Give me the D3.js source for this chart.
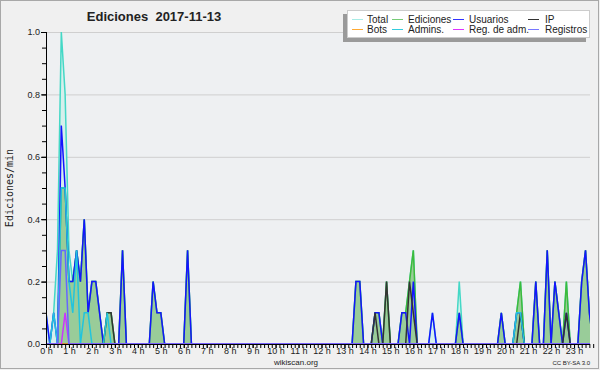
<!DOCTYPE html>
<html>
<head>
<meta charset="utf-8">
<script src="https://cdn.jsdelivr.net/npm/d3@7"></script>
<style>
  body { margin: 0; background: #f0f0f0; }
  svg { display: block; }
  text { font-family: 'Liberation Sans', Arial, sans-serif; fill: #222; }
</style>
</head>
<body>
<div id="chart"></div>
<script>
// 10-minute slots, values in edits per minute
const slotMinutes = d3.range(144).map(i => i * 10);

const total = [
  0.1, 0, 0.1, 0.3, 1.0, 0.8, 0.3, 0.2, 0.3, 0.2, 0.4, 0.1, 0.2, 0.2, 0.1, 0, 0.1, 0.1, 0, 0, 0.3, 0, 0, 0,
  0, 0, 0, 0, 0.2, 0.1, 0.1, 0, 0, 0, 0, 0, 0, 0.3, 0, 0, 0, 0, 0, 0, 0, 0, 0, 0,
  0, 0, 0, 0, 0, 0, 0, 0, 0, 0, 0, 0, 0, 0, 0, 0, 0, 0, 0, 0, 0, 0, 0, 0,
  0, 0, 0, 0, 0, 0, 0, 0, 0, 0.2, 0.2, 0, 0, 0, 0.1, 0.1, 0, 0.2, 0, 0, 0, 0.1, 0.1, 0.2,
  0.3, 0, 0, 0, 0, 0.1, 0, 0, 0, 0, 0, 0, 0.2, 0, 0, 0, 0, 0, 0, 0, 0, 0, 0, 0.1,
  0, 0, 0, 0.1, 0.2, 0, 0, 0, 0.2, 0, 0, 0.3, 0, 0.2, 0.1, 0, 0.2, 0, 0, 0, 0.2, 0.3, 0.1, 0
];
const ediciones = [
  0, 0, 0, 0, 0.5, 0.5, 0.2, 0.2, 0.3, 0.2, 0.4, 0.1, 0.2, 0.2, 0.1, 0, 0.1, 0.1, 0, 0, 0.3, 0, 0, 0,
  0, 0, 0, 0, 0.2, 0.1, 0.1, 0, 0, 0, 0, 0, 0, 0.3, 0, 0, 0, 0, 0, 0, 0, 0, 0, 0,
  0, 0, 0, 0, 0, 0, 0, 0, 0, 0, 0, 0, 0, 0, 0, 0, 0, 0, 0, 0, 0, 0, 0, 0,
  0, 0, 0, 0, 0, 0, 0, 0, 0, 0.2, 0.2, 0, 0, 0, 0.1, 0.1, 0, 0.2, 0, 0, 0, 0.1, 0.1, 0.2,
  0.3, 0, 0, 0, 0, 0, 0, 0, 0, 0, 0, 0, 0.1, 0, 0, 0, 0, 0, 0, 0, 0, 0, 0, 0.1,
  0, 0, 0, 0.1, 0.2, 0, 0, 0, 0.2, 0, 0, 0.3, 0, 0.2, 0.1, 0, 0.2, 0, 0, 0, 0.2, 0.3, 0.1, 0
];
const usuarios = [
  0.1, 0, 0.1, 0, 0.7, 0.5, 0.2, 0.2, 0.3, 0.2, 0.4, 0.1, 0.2, 0.2, 0.1, 0, 0, 0, 0, 0, 0.3, 0, 0, 0,
  0, 0, 0, 0, 0.2, 0.1, 0.1, 0, 0, 0, 0, 0, 0, 0.3, 0, 0, 0, 0, 0, 0, 0, 0, 0, 0,
  0, 0, 0, 0, 0, 0, 0, 0, 0, 0, 0, 0, 0, 0, 0, 0, 0, 0, 0, 0, 0, 0, 0, 0,
  0, 0, 0, 0, 0, 0, 0, 0, 0, 0.2, 0.2, 0, 0, 0, 0.1, 0.1, 0, 0, 0, 0, 0, 0.1, 0.1, 0,
  0.2, 0, 0, 0, 0, 0.1, 0, 0, 0, 0, 0, 0, 0.1, 0, 0, 0, 0, 0, 0, 0, 0, 0, 0, 0.1,
  0, 0, 0, 0.1, 0.1, 0, 0, 0, 0.2, 0, 0, 0.3, 0, 0.2, 0.1, 0, 0.1, 0, 0, 0, 0.2, 0.3, 0.1, 0
];
const ip = [
  0, 0, 0, 0, 0, 0, 0, 0, 0, 0, 0, 0, 0, 0, 0, 0, 0.1, 0.1, 0, 0, 0, 0, 0, 0,
  0, 0, 0, 0, 0, 0, 0, 0, 0, 0, 0, 0, 0, 0, 0, 0, 0, 0, 0, 0, 0, 0, 0, 0,
  0, 0, 0, 0, 0, 0, 0, 0, 0, 0, 0, 0, 0, 0, 0, 0, 0, 0, 0, 0, 0, 0, 0, 0,
  0, 0, 0, 0, 0, 0, 0, 0, 0, 0, 0, 0, 0, 0, 0.1, 0, 0, 0.2, 0, 0, 0, 0, 0, 0.2,
  0.1, 0, 0, 0, 0, 0, 0, 0, 0, 0, 0, 0, 0, 0, 0, 0, 0, 0, 0, 0, 0, 0, 0, 0,
  0, 0, 0, 0, 0.1, 0, 0, 0, 0, 0, 0, 0, 0, 0, 0, 0, 0.1, 0, 0, 0, 0, 0, 0, 0
];
const bots = [
  0, 0, 0, 0, 0, 0, 0, 0, 0, 0, 0, 0, 0, 0, 0, 0, 0, 0, 0, 0, 0, 0, 0, 0,
  0, 0, 0, 0, 0, 0, 0, 0, 0, 0, 0, 0, 0, 0, 0, 0, 0, 0, 0, 0, 0, 0, 0, 0,
  0, 0, 0, 0, 0, 0, 0, 0, 0, 0, 0, 0, 0, 0, 0, 0, 0, 0, 0, 0, 0, 0, 0, 0,
  0, 0, 0, 0, 0, 0, 0, 0, 0, 0, 0, 0, 0, 0, 0, 0, 0, 0, 0, 0, 0, 0, 0, 0,
  0, 0, 0, 0, 0, 0, 0, 0, 0, 0, 0, 0, 0, 0, 0, 0, 0, 0, 0, 0, 0, 0, 0, 0,
  0, 0, 0, 0, 0, 0, 0, 0, 0, 0, 0, 0, 0, 0, 0, 0, 0, 0, 0, 0, 0, 0, 0, 0
];
const admins = [
  0, 0, 0.1, 0, 0.5, 0.5, 0.2, 0.1, 0.3, 0, 0.1, 0.1, 0, 0, 0, 0, 0.1, 0, 0, 0, 0, 0, 0, 0,
  0, 0, 0, 0, 0, 0, 0, 0, 0, 0, 0, 0, 0, 0, 0, 0, 0, 0, 0, 0, 0, 0, 0, 0,
  0, 0, 0, 0, 0, 0, 0, 0, 0, 0, 0, 0, 0, 0, 0, 0, 0, 0, 0, 0, 0, 0, 0, 0,
  0, 0, 0, 0, 0, 0, 0, 0, 0, 0, 0, 0, 0, 0, 0, 0, 0, 0, 0, 0, 0, 0, 0, 0,
  0, 0, 0, 0, 0, 0, 0, 0, 0, 0, 0, 0, 0, 0, 0, 0, 0, 0, 0, 0, 0, 0, 0, 0,
  0, 0, 0, 0.1, 0.1, 0, 0, 0, 0, 0, 0, 0, 0, 0, 0, 0, 0, 0, 0, 0, 0, 0, 0, 0
];
const regAdm = [
  0, 0, 0, 0, 0, 0.1, 0, 0, 0, 0, 0, 0, 0, 0, 0, 0, 0, 0, 0, 0, 0, 0, 0, 0,
  0, 0, 0, 0, 0, 0, 0, 0, 0, 0, 0, 0, 0, 0, 0, 0, 0, 0, 0, 0, 0, 0, 0, 0,
  0, 0, 0, 0, 0, 0, 0, 0, 0, 0, 0, 0, 0, 0, 0, 0, 0, 0, 0, 0, 0, 0, 0, 0,
  0, 0, 0, 0, 0, 0, 0, 0, 0, 0, 0, 0, 0, 0, 0, 0, 0, 0, 0, 0, 0, 0, 0, 0,
  0, 0, 0, 0, 0, 0, 0, 0, 0, 0, 0, 0, 0, 0, 0, 0, 0, 0, 0, 0, 0, 0, 0, 0,
  0, 0, 0, 0, 0, 0, 0, 0, 0, 0, 0, 0, 0, 0, 0, 0, 0, 0, 0, 0, 0, 0, 0, 0
];
const registros = [
  0, 0, 0, 0, 0.3, 0.3, 0, 0, 0, 0, 0, 0, 0, 0, 0, 0, 0, 0, 0, 0, 0, 0, 0, 0,
  0, 0, 0, 0, 0, 0, 0, 0, 0, 0, 0, 0, 0, 0, 0, 0, 0, 0, 0, 0, 0, 0, 0, 0,
  0, 0, 0, 0, 0, 0, 0, 0, 0, 0, 0, 0, 0, 0, 0, 0, 0, 0, 0, 0, 0, 0, 0, 0,
  0, 0, 0, 0, 0, 0, 0, 0, 0, 0, 0, 0, 0, 0, 0, 0, 0, 0, 0, 0, 0, 0, 0, 0,
  0, 0, 0, 0, 0, 0, 0, 0, 0, 0, 0, 0, 0, 0, 0, 0, 0, 0, 0, 0, 0, 0, 0, 0,
  0, 0, 0, 0, 0, 0, 0, 0, 0, 0, 0, 0, 0, 0, 0, 0, 0, 0, 0, 0, 0, 0, 0, 0
];

const hourLabels = d3.range(24).map(h => `${h} h`);
const legendNames = ['Total', 'Ediciones', 'Usuarios', 'IP', 'Bots', 'Admins.', 'Reg. de adm.', 'Registros'];
const legendColors = ['#a8ece6', '#77cc77', '#3333ff', '#333333', '#ffaa33', '#33ccdd', '#dd33ff', '#7777ff'];

const width = 600;
const height = 370;
const plot = { left: 46, right: 590, top: 32, bottom: 344 };

const svg = d3.select('#chart').append('svg')
  .attr('width', width)
  .attr('height', height);

svg.append('rect')
  .attr('x', 0.5).attr('y', 0.5)
  .attr('width', width - 2).attr('height', height - 2)
  .attr('fill', '#f0f0f0')
  .attr('stroke', '#a8a8a8');

svg.append('rect')
  .attr('x', plot.left).attr('y', plot.top)
  .attr('width', plot.right - plot.left).attr('height', plot.bottom - plot.top)
  .attr('fill', '#eef0f2');

const xScale = d3.scaleLinear().domain([0, 1440]).range([plot.left, 597]);
const yScale = d3.scaleLinear().domain([0, 1]).range([plot.bottom, plot.top]);

// grid
svg.append('g')
  .selectAll('line')
  .data([0.2, 0.4, 0.6, 0.8, 1.0])
  .enter()
  .append('line')
  .attr('x1', plot.left).attr('x2', plot.right)
  .attr('y1', d => yScale(d) + 0.5).attr('y2', d => yScale(d) + 0.5)
  .attr('stroke', '#cfcfcf');

svg.append('clipPath').attr('id', 'clip')
  .append('rect')
  .attr('x', plot.left).attr('y', 0)
  .attr('width', plot.right - plot.left).attr('height', plot.bottom + 1);

const plotArea = d3.area()
  .x((d, i) => xScale(slotMinutes[i]))
  .y0(yScale(0))
  .y1(d => yScale(d));

const plotLine = d3.line()
  .x((d, i) => xScale(slotMinutes[i]))
  .y(d => yScale(d));

const layers = svg.append('g').attr('clip-path', 'url(#clip)');

layers.append('path').datum(total).attr('d', plotArea).style('fill', '#d6efec');
layers.append('path').datum(total).attr('d', plotLine)
  .style('fill', 'none').style('stroke', '#44d8c6').style('stroke-width', '1.5px');

layers.append('path').datum(ediciones).attr('d', plotArea).style('fill', '#99cc99');
layers.append('path').datum(ediciones).attr('d', plotLine)
  .style('fill', 'none').style('stroke', '#3cbb3c').style('stroke-width', '1.5px');

const lineSeries = [
  { values: usuarios, color: '#1414ff' },
  { values: ip, color: '#333333' },
  { values: bots, color: '#ff9933' },
  { values: admins, color: '#22c4dd' },
  { values: regAdm, color: '#cc33ff' },
  { values: registros, color: '#6666ff' },
];

lineSeries.forEach((s) => {
  layers.append('path').datum(s.values).attr('d', plotLine)
    .style('fill', 'none')
    .style('stroke', s.color)
    .style('stroke-width', '1.5px')
    .style('stroke-linejoin', 'miter');
});

// axes
const yMinor = d3.axisLeft(yScale).tickValues(d3.range(0, 1.001, 0.05)).tickSize(4).tickFormat('');
const yMajor = d3.axisLeft(yScale).tickValues([0, 0.2, 0.4, 0.6, 0.8, 1.0])
  .tickSize(5).tickPadding(1).tickFormat(d3.format('.1f'));

svg.append('g').attr('class', 'y axis')
  .attr('transform', `translate(${plot.left},0)`)
  .call(yMinor);
svg.append('g').attr('class', 'y axis')
  .attr('transform', `translate(${plot.left},0)`)
  .call(yMajor);

const xMinor = d3.axisBottom(xScale).tickValues(d3.range(0, 1440, 10)).tickSize(4).tickFormat('');
const xMajor = d3.axisBottom(xScale).tickValues(d3.range(0, 1440, 60))
  .tickSize(4).tickPadding(0).tickFormat((d, i) => hourLabels[i]);

svg.append('g').attr('class', 'x axis')
  .attr('transform', `translate(0,${plot.bottom})`)
  .call(xMinor);
svg.append('g').attr('class', 'x axis')
  .attr('transform', `translate(0,${plot.bottom})`)
  .call(xMajor);

svg.selectAll('.axis .domain').remove();
svg.selectAll('.axis line').attr('stroke', '#000');
svg.selectAll('.axis text')
  .style('font-family', "'Liberation Sans', Arial, sans-serif")
  .style('font-size', '9px')
  .attr('fill', '#333');

svg.append('line')
  .attr('x1', plot.left + 0.5).attr('x2', plot.left + 0.5)
  .attr('y1', plot.top).attr('y2', plot.bottom + 1)
  .attr('stroke', '#000');
svg.append('line')
  .attr('x1', plot.left).attr('x2', plot.right)
  .attr('y1', plot.bottom + 0.5).attr('y2', plot.bottom + 0.5)
  .attr('stroke', '#000');

// titles
svg.append('text')
  .attr('x', 154).attr('y', 21)
  .attr('text-anchor', 'middle')
  .style('font-weight', 'bold')
  .style('font-size', '13px')
  .attr('xml:space', 'preserve')
  .text('Ediciones  2017-11-13');

svg.append('text')
  .attr('transform', 'translate(13,188) rotate(-90)')
  .attr('text-anchor', 'middle')
  .style('font-family', "'DejaVu Sans Mono', monospace")
  .style('font-size', '10px')
  .text('Ediciones/min');

svg.append('text')
  .attr('x', 296).attr('y', 365)
  .attr('text-anchor', 'middle')
  .style('font-size', '8px')
  .attr('fill', '#333')
  .text('wikiscan.org');

svg.append('text')
  .attr('x', 590).attr('y', 365)
  .attr('text-anchor', 'end')
  .style('font-size', '6px')
  .attr('fill', '#444')
  .text('CC BY-SA 3.0');

// legend
const legend = svg.append('g').attr('class', 'legend');
legend.append('rect')
  .attr('x', 343).attr('y', 14).attr('width', 243).attr('height', 28)
  .attr('fill', '#9a9a9a');
legend.append('rect')
  .attr('x', 347.5).attr('y', 10.5).attr('width', 242).attr('height', 27)
  .attr('fill', '#fff').attr('stroke', '#cccccc');

const colX = [352, 392, 453, 528];
const rowY = [19.5, 29.5];

const items = legend.selectAll('.item')
  .data(legendNames)
  .enter()
  .append('g')
  .attr('class', 'item')
  .attr('transform', (d, i) => `translate(${colX[i % 4]},${rowY[Math.floor(i / 4)]})`);

items.append('line')
  .attr('x1', 0).attr('x2', 11)
  .attr('stroke', (d, i) => legendColors[i])
  .attr('stroke-width', 1);

items.append('text')
  .attr('x', (d, i) => [15, 16, 16, 17][i % 4])
  .attr('y', 3.5)
  .style('font-size', '10px')
  .text(d => d);
</script>
</body>
</html>
